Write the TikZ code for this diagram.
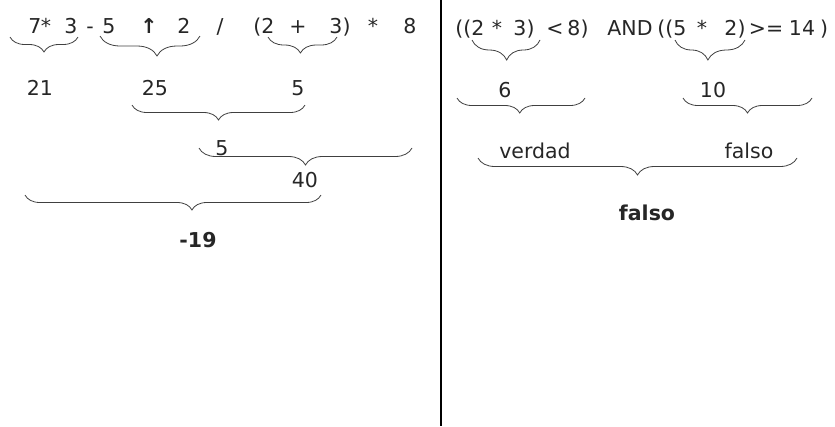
\documentclass[tikz,border=0pt]{standalone}
\usepackage{fontspec}
\setmainfont{DejaVu Sans}
\usetikzlibrary{decorations.pathreplacing}
\begin{document}
\begin{tikzpicture}[x=1pt,y=-1pt,
  tok/.style={inner sep=0pt,anchor=base,font=\fontsize{20.5}{24}\selectfont,text=black!85},
  res/.style={tok,font=\fontsize{20.5}{24}\selectfont\bfseries},
  br/.style={decorate,decoration={brace,mirror,amplitude=#1},line width=0.8pt,draw=black!75},
  br/.default=15]
\useasboundingbox (0,0) rectangle (835,426);
% divider
\coordinate (vtop) at (441,0);
\coordinate (vbot) at (441,426);
\draw[line width=2pt] (vtop) -- (vbot);
% ---------- left expression ----------
\node[tok] (a1) at (35,33) {7};
\node[tok] (a2) at (46,33) {*};
\node[tok] (a3) at (71,33) {3};
\node[tok] (a4) at (90,33) {-};
\node[tok] (a5) at (109,33) {5};
\node[res] (a6) at (149,33) {↑};
\node[tok] (a7) at (184,33) {2};
\node[tok] (a8) at (220,33) {/};
\node[tok] (a9) at (264,33) {(2};
\node[tok] (a11) at (298,33) {+};
\node[tok] (a12) at (340,33) {3)};
\node[tok] (a14) at (373,33) {*};
\node[tok] (a15) at (410,33) {8};
% results
\node[tok] (r21) at (40,95) {21};
\node[tok] (r25) at (155,95) {25};
\node[tok] (r5a) at (298,95) {5};
\node[tok] (r5b) at (222,155) {5};
\node[tok] (r40) at (305,187) {40};
\node[res] (rm19) at (198,247) {-19};
% braces left
\coordinate (b1s) at (10,37);  \coordinate (b1e) at (78,37);
\coordinate (b2s) at (100,36); \coordinate (b2e) at (200,36);
\coordinate (b3s) at (268,37); \coordinate (b3e) at (337,37);
\coordinate (b4s) at (132,105); \coordinate (b4e) at (305,105);
\coordinate (b5s) at (199,148); \coordinate (b5e) at (412,148);
\coordinate (b6s) at (25,195); \coordinate (b6e) at (321,195);
\draw[br=15] (b1s) -- (b1e);
\draw[br=20,decoration={aspect=0.57}] (b2s) -- (b2e);
\draw[br=16,decoration={aspect=0.47}] (b3s) -- (b3e);
\draw[br=15] (b4s) -- (b4e);
\draw[br=17] (b5s) -- (b5e);
\draw[br=15,decoration={aspect=0.564}] (b6s) -- (b6e);
% ---------- right expression ----------
\node[tok] (c1) at (470,35) {((2};
\node[tok] (c3) at (497,35) {*};
\node[tok] (c4) at (524,35) {3)};
\node[tok] (c6) at (555,35) {<};
\node[tok] (c7) at (578,35) {8)};
\node[tok] (c9) at (630,35) {AND};
\node[tok] (c10) at (672,35) {((5};
\node[tok] (c12) at (702,35) {*};
\node[tok] (c13) at (735,35) {2)};
\node[tok] (c15) at (766,35) {>=};
\node[tok] (c16) at (802,35) {14};
\node[tok] (c17) at (824,35) {)};
% results
\node[tok] (s6) at (505,97) {6};
\node[tok] (s10) at (713,97) {10};
\node[tok] (sv) at (535,158) {verdad};
\node[tok] (sf) at (749,158) {falso};
\node[res] (sfinal) at (647,220) {falso};
% braces right
\coordinate (d1s) at (472,40); \coordinate (d1e) at (540,40);
\coordinate (d2s) at (675,40); \coordinate (d2e) at (745,40);
\coordinate (d3s) at (457,98); \coordinate (d3e) at (585,98);
\coordinate (d4s) at (683,98); \coordinate (d4e) at (812,98);
\coordinate (d5s) at (478,158); \coordinate (d5e) at (797,158);
\draw[br=20,decoration={aspect=0.51}] (d1s) -- (d1e);
\draw[br=20,decoration={aspect=0.47}] (d2s) -- (d2e);
\draw[br=15,decoration={aspect=0.49}] (d3s) -- (d3e);
\draw[br=15] (d4s) -- (d4e);
\draw[br=17] (d5s) -- (d5e);
\end{tikzpicture}
\end{document}
